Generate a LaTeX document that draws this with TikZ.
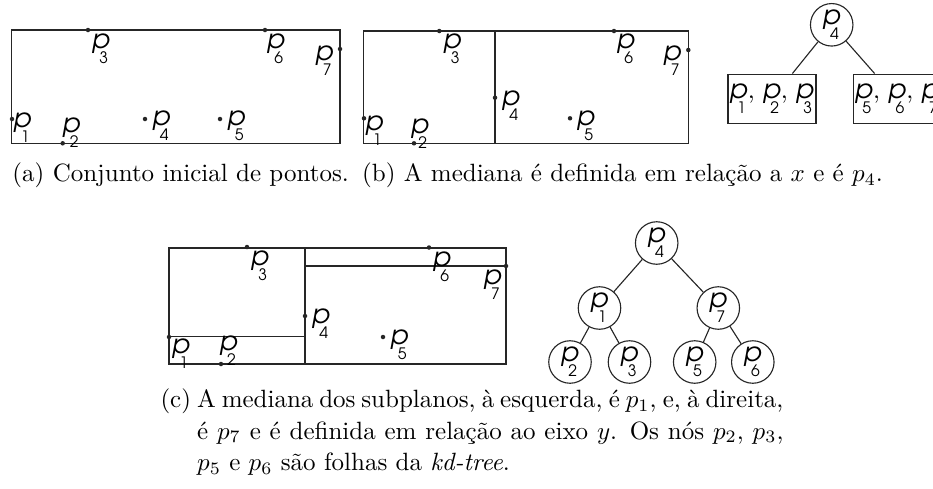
\documentclass[tikz,border=0pt]{standalone}
\usepackage{fontspec}
\newfontfamily\lblfont{TeX Gyre Adventor}
\newsavebox\pglyph
\newcommand\plab[1]{\sbox\pglyph{\lblfont\fontsize{10.5}{12}\selectfont\itshape p}\usebox\pglyph\rlap{\kern\dimexpr2.9pt-\wd\pglyph\relax\raisebox{\dimexpr\ht\pglyph-11.8pt\relax}{\lblfont\fontsize{6.3}{7}\selectfont #1}}}
\begin{document}
\begin{tikzpicture}[x=0.4pt,y=-0.4pt,
  outline/.style={draw=black!85, line width=0.5pt},
  ptdot/.style={circle, fill=black!85, inner sep=0pt, minimum size=1.8pt},
  lbl/.style={inner sep=0pt, anchor=north west},
  tn/.style={circle, draw=black!85, line width=0.45pt, inner sep=0pt, minimum size=17pt},
  leafbox/.style={rectangle, draw=black!85, line width=0.45pt, inner sep=0pt, minimum width=35.2pt, minimum height=19.7pt},
  conn/.style={draw=black!85, line width=0.45pt},
  captxt/.style={inner sep=0pt, anchor=base west, font=\fontsize{10}{12.7}\selectfont}]
\useasboundingbox (0,0) rectangle (933,488);
% ---------- (a)
\draw[outline] (11.7,30) rectangle (340,143.3);
\node[ptdot] (a1) at (12,119) {};
\node[ptdot] (a2) at (62.7,143.3) {};
\node[ptdot] (a3) at (88,30) {};
\node[ptdot] (a4) at (145,119) {};
\node[ptdot] (a5) at (220,119) {};
\node[ptdot] (a6) at (265,30) {};
\node[ptdot] (a7) at (340,49) {};
\node[lbl] (la1) at (13,112) {\plab{1}};
\node[lbl] (la2) at (62,117) {\plab{2}};
\node[lbl] (la3) at (91.7,33) {\plab{3}};
\node[lbl] (la4) at (152,110) {\plab{4}};
\node[lbl] (la5) at (227,110) {\plab{5}};
\node[lbl] (la6) at (266.7,33) {\plab{6}};
\node[lbl] (la7) at (315,45) {\plab{7}};
\node[captxt] (capa) at (12,181.7) {(a) Conjunto inicial de pontos.};
% ---------- (b)
\draw[outline] (363.3,31) rectangle (688.3,143.3);
\draw[outline] (495,31) -- (495,143.3);
\node[ptdot] (b1) at (364,118.3) {};
\node[ptdot] (b2) at (414,143.3) {};
\node[ptdot] (b3) at (439.3,31) {};
\node[ptdot] (b4) at (495,97.7) {};
\node[ptdot] (b5) at (570,118.3) {};
\node[ptdot] (b6) at (614,31) {};
\node[ptdot] (b7) at (688.3,50) {};
\node[lbl] (lb1) at (365,115) {\plab{1}};
\node[lbl] (lb2) at (410.7,118) {\plab{2}};
\node[lbl] (lb3) at (443,33) {\plab{3}};
\node[lbl] (lb4) at (501.7,90.7) {\plab{4}};
\node[lbl] (lb5) at (576.7,110) {\plab{5}};
\node[lbl] (lb6) at (616.7,33) {\plab{6}};
\node[lbl] (lb7) at (663,45) {\plab{7}};
\node[tn] (tb) at (831.7,24.8) {\plab{4}};
\node[leafbox] (bl) at (772,98.7) {\plab{1}, \plab{2}, \plab{3}};
\node[leafbox] (br) at (897.3,98.7) {\plab{5}, \plab{6}, \plab{7}};
\draw[conn] (tb) -- (bl.51);
\draw[conn] (tb) -- (br.132);
\node[captxt] (capb) at (361.7,181.7) {(b) A mediana é definida em relação a $x$ e é $p_4$.};
% ---------- (c)
\draw[outline] (169,248) rectangle (506,364);
\draw[outline] (305,248) -- (305,364);
\draw[outline] (169,336.7) -- (305,336.7);
\draw[outline] (305,266) -- (506,266);
\node[ptdot] (c1) at (169,337) {};
\node[ptdot] (c2) at (221,364) {};
\node[ptdot] (c3) at (247,247) {};
\node[ptdot] (c4) at (305,316) {};
\node[ptdot] (c5) at (383,337) {};
\node[ptdot] (c6) at (429,247.5) {};
\node[ptdot] (c7) at (506,266) {};
\node[lbl] (lc1) at (171.7,338.3) {\plab{1}};
\node[lbl] (lc2) at (219.3,335) {\plab{2}};
\node[lbl] (lc3) at (250.7,250.7) {\plab{3}};
\node[lbl] (lc4) at (311.7,308.3) {\plab{4}};
\node[lbl] (lc5) at (390,329.3) {\plab{5}};
\node[lbl] (lc6) at (432.7,251.7) {\plab{6}};
\node[lbl] (lc7) at (483.3,269.3) {\plab{7}};
\node[tn] (t4) at (656.7,243) {\plab{4}};
\node[tn] (t1) at (599.5,308) {\plab{1}};
\node[tn] (t7) at (718.3,308) {\plab{7}};
\node[tn] (t2) at (570,362) {\plab{2}};
\node[tn] (t3) at (629.5,362) {\plab{3}};
\node[tn] (t5) at (694.7,362) {\plab{5}};
\node[tn] (t6) at (752.8,362) {\plab{6}};
\draw[conn] (t4) -- (t1);
\draw[conn] (t4) -- (t7);
\draw[conn] (t1) -- (t2);
\draw[conn] (t1) -- (t3);
\draw[conn] (t7) -- (t5);
\draw[conn] (t7) -- (t6);
\node[captxt] (capc) at (160,407.4) {(c)};
\node[captxt] (cl1) at (196.7,407.4) {\makebox[234.5pt][s]{A mediana dos subplanos, à esquerda, é $p_1$, e, à direita,}};
\node[captxt] (cl2) at (196.7,439.1) {\makebox[234.5pt][s]{é $p_7$ e é definida em relação ao eixo $y$. Os nós $p_2$, $p_3$,}};
\node[captxt] (cl3) at (196.7,470.8) {$p_5$ e $p_6$ são folhas da \textit{kd-tree}.};
\end{tikzpicture}
\end{document}
